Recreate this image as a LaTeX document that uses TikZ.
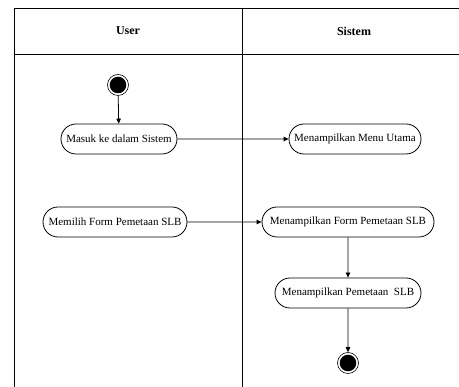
\documentclass[tikz,border=0pt]{standalone}
\usepackage{fontspec}
\setmainfont{Liberation Serif}
\usetikzlibrary{shapes.misc,arrows.meta}
\begin{document}
\begin{tikzpicture}[x=1pt,y=-1pt,
  act/.style={draw,line width=0.8pt,rounded rectangle,minimum height=30pt,inner sep=2pt,font=\fontsize{11}{13}\selectfont},
  flow/.style={line width=0.8pt,-{Triangle[length=5pt,width=4.5pt]}},
  lane/.style={line width=0.9pt},
  hdr/.style={font=\bfseries\fontsize{12}{14}\selectfont}]
\useasboundingbox (0,0) rectangle (459,387);
% swimlanes
\coordinate (tl) at (14,8);
\coordinate (tr) at (470,8);
\coordinate (hl) at (14,54);
\coordinate (hr) at (470,54);
\coordinate (bl) at (14,390);
\coordinate (mt) at (242,8);
\coordinate (mb) at (242,390);
\draw[lane] (tr) -- (tl) -- (bl);
\draw[lane] (hl) -- (hr);
\draw[lane] (mt) -- (mb);
\node[hdr] (huser) at (128,31) {User};
\node[hdr] (hsis) at (354,31) {Sistem};
% start
\node[circle,draw,line width=0.6pt,minimum size=21pt,inner sep=0pt] (start) at (118,85) {};
\fill (start.center) circle (8.3pt);
% activities
\node[act,minimum width=120pt] (masuk) at (119,139) {Masuk ke dalam Sistem};
\node[act,minimum width=136pt] (menu) at (355,139) {Menampilkan Menu Utama};
\node[act,minimum width=148pt] (pilih) at (115,222) {Memilih Form Pemetaan SLB};
\node[act,minimum width=176pt] (form) at (348,222) {Menampilkan Form Pemetaan SLB};
\node[act,minimum width=150pt] (peta) at (348,293) {Menampilkan Pemetaan\ \ SLB};
% end
\node[circle,draw,line width=0.6pt,minimum size=21pt,inner sep=0pt] (end) at (348,363) {};
\fill (end.center) circle (8.3pt);
% flows
\draw[flow] (start) -- (masuk);
\draw[flow] (masuk) -- (menu);
\draw[flow] (pilih) -- (form);
\draw[flow] (form) -- (peta);
\draw[flow] (peta) -- (end);
\end{tikzpicture}
\end{document}
